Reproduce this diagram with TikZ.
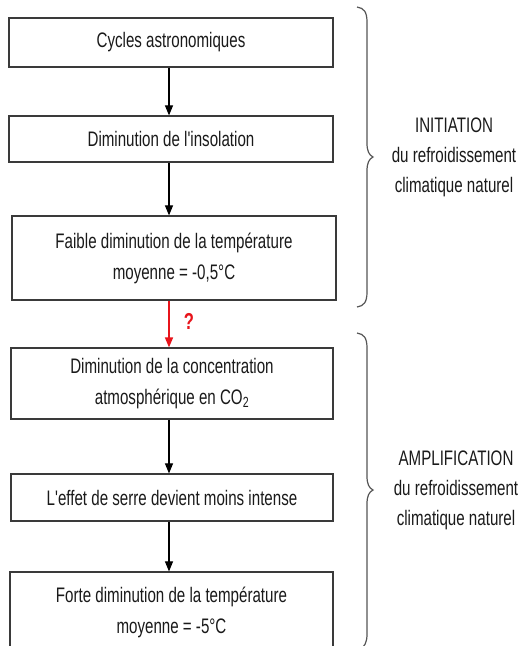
\documentclass[tikz,border=0pt]{standalone}
\usepackage{fontspec}
\newfontfamily\arl{Liberation Sans}[FakeStretch=0.72]
\usetikzlibrary{arrows.meta}
\definecolor{txt}{HTML}{1A1A1A}
\definecolor{boxline}{HTML}{3A3A3A}
\definecolor{braceline}{HTML}{555555}
\definecolor{qred}{HTML}{E8141B}
\tikzset{
  stepbox/.style={draw=boxline, line width=1.2pt, rectangle, inner sep=0pt,
    minimum width=324pt, text=txt, align=center,
    font=\arl\fontsize{21}{31}\selectfont},
  arr/.style={draw=black, line width=1.1pt, -{Triangle[width=8pt,length=10pt]}},
  redarr/.style={draw=qred, line width=1.5pt, -{Triangle[width=8pt,length=10pt]}},
  bracepath/.style={draw=braceline, line width=1.2pt},
  sidetext/.style={text=txt, align=center, font=\arl\fontsize{21}{30}\selectfont}
}
\begin{document}
\begin{tikzpicture}[x=1pt,y=-1pt]
\fill[white] (0,0) rectangle (521,646);
\useasboundingbox (0,0) rectangle (521,646);
\clip (0,0) rectangle (521,646);
\coordinate (ax) at (169,0);
\node[stepbox, minimum height=49pt] (b1) at (171,42.5) {Cycles astronomiques};
\node[stepbox, minimum height=46pt] (b2) at (171,139) {Diminution de l'insolation};
\node[stepbox, minimum height=84pt] (b3) at (174,258) {Faible diminution de la température\\moyenne = -0,5°C};
\node[stepbox, minimum height=71pt, minimum width=322pt] (b4) at (172,383.5) {Diminution de la concentration\\atmosphérique en CO\textsubscript{2}};
\node[stepbox, minimum height=47pt, minimum width=322pt] (b5) at (172,497.5) {L'effet de serre devient moins intense};
\node[stepbox, minimum height=80pt, minimum width=323pt] (b6) at (171.5,612) {Forte diminution de la température\\moyenne = -5°C};
\draw[arr] (b1.south -| ax) -- (b2.north -| ax);
\draw[arr] (b2.south -| ax) -- (b3.north -| ax);
\draw[redarr] (b3.south -| ax) -- (b4.north -| ax);
\draw[arr] (b4.south -| ax) -- (b5.north -| ax);
\draw[arr] (b5.south -| ax) -- (b6.north -| ax);
\node[text=qred, font=\arl\bfseries\fontsize{23}{24}\selectfont] (q) at (189,321) {?};
\draw[bracepath] (357,7) .. controls (364,8) and (367,12) .. (367,22) -- (367,143)
  .. controls (367,151) and (369,155) .. (373,157)
  .. controls (369,159) and (367,163) .. (367,171) -- (367,292)
  .. controls (367,302) and (364,306) .. (357,307);
\draw[bracepath] (357,333) .. controls (364,334) and (367,338) .. (367,348) -- (367,476)
  .. controls (367,484) and (369,488) .. (373,490)
  .. controls (369,492) and (367,496) .. (367,504) -- (367,634)
  .. controls (367,642) and (365,647) .. (359,650);
\node[sidetext] (t1) at (454,157) {INITIATION\\du refroidissement\\climatique naturel};
\node[sidetext] (t2) at (456,490) {AMPLIFICATION\\du refroidissement\\climatique naturel};
\end{tikzpicture}
\end{document}
